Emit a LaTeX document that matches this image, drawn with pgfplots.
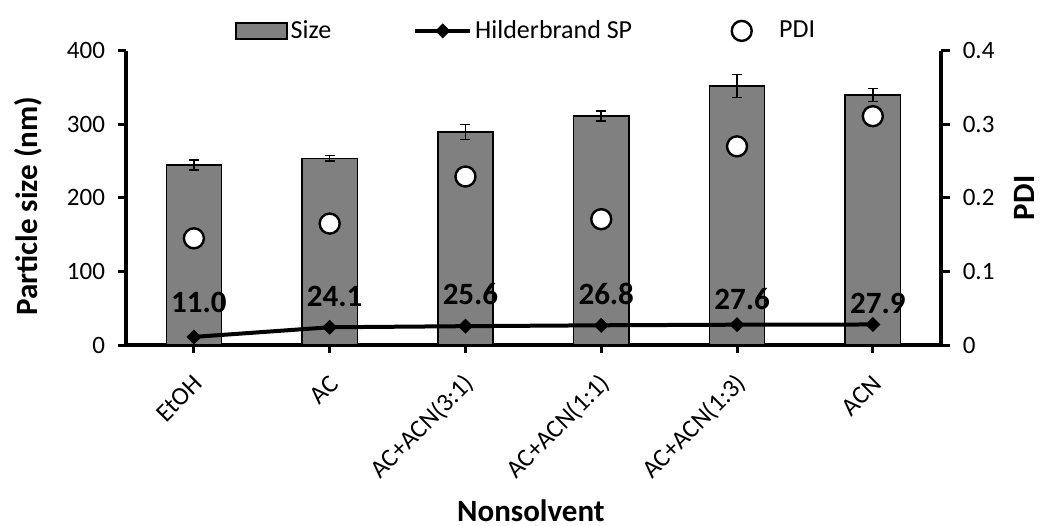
\documentclass[border=0pt]{standalone}
\usepackage{pgfplots}
\usepackage{pgfplotstable}
\usepackage{fontspec}
\setmainfont{Carlito}
\pgfplotsset{compat=1.18}
\definecolor{barGray}{RGB}{128,128,128}

\pgfplotsset{
  sizeleg/.style={legend image code/.code={\draw[fill=barGray, draw=black, line width=0.75pt] (0pt,-4pt) rectangle (25.5pt,4pt);}},
  lineleg/.style={legend image code/.code={\draw[mark repeat=2, mark phase=2, ##1] plot coordinates {(0pt,0pt) (13.75pt,0pt) (27.5pt,0pt)};}},
  pdileg/.style={legend image code/.code={\path[draw=none, fill=none] (0pt,-5pt) rectangle (31pt,5pt); \node[circle, draw=black, fill=white, line width=1.2pt, minimum size=10pt, inner sep=0pt] at (13.75pt,0pt) {};}},
}

\pgfplotstableread{
x  size  err  sp    lab   dy    pdi
0  244.6 6.8  11.0  11.0  17.0  0.145
1  253.7 3.9  24.1  24.1  15.2  0.165
2  289.5 10.2 25.6  25.6  15.9  0.229
3  311.2 6.6  26.8  26.8  15.7  0.171
4  352.0 15.8 27.6  27.6  12.6  0.270
5  339.8 9.0  27.9  27.9  10.6  0.311
}\datatable

\begin{document}
\begin{tikzpicture}
\path[use as bounding box] (-63pt,-90pt) rectangle (458pt,172.5pt);
\begin{axis}[
  at={(0,0)}, anchor=south west,
  scale only axis, width=407.35pt, height=147.15pt,
  xmin=-0.5, xmax=5.5, ymin=0, ymax=400,
  axis x line*=bottom, axis y line*=left,
  axis line style={line width=2pt, black},
  tick align=outside,
  major tick length=4pt,
  tick style={line width=1.5pt, black},
  xtick={0,1,2,3,4,5},
  xticklabels={EtOH, AC, AC+ACN(3:1), AC+ACN(1:1), AC+ACN(1:3), ACN},
  ytick={0,100,200,300,400},
  /pgf/number format/assume math mode=true,
  yticklabel style={font=\fontsize{12.5}{12.5}\selectfont, xshift=-3pt},
  xticklabel style={font=\fontsize{12.75}{12.75}\selectfont, xshift=3pt, yshift=-12.5pt, rotate=45, anchor=east, inner sep=1pt},
  ylabel={Particle size (nm)},
  ylabel style={font=\bfseries\fontsize{15.5}{15.5}\selectfont, at={(axis description cs:-0.12,0.472)}, anchor=center},
  xlabel={Nonsolvent},
  xlabel style={font=\bfseries\fontsize{15.5}{15.5}\selectfont, at={(axis description cs:0.497,-0.601)}, anchor=base, inner sep=0pt},
  legend columns=3,
  legend style={at={(axis description cs:0.49,1)}, anchor=center, yshift=9.9pt,
    draw=none, fill=none, inner sep=0pt, outer sep=0pt,
    font=\fontsize{13}{13}\selectfont,
    nodes={inner sep=0pt},
    /tikz/every odd column/.append style={column sep=1.5pt},
    /tikz/every even column/.append style={column sep=41pt}},
  clip=false,
]
\addplot[ybar, bar width=27.6pt, fill=barGray, draw=black, line width=0.75pt, sizeleg,
  error bars/.cd, y dir=both, y explicit,
  error bar style={line width=0.75pt, black},
  error mark options={rotate=90, mark size=2.5pt, line width=0.75pt, black}]
  table[x=x, y=size, y error=err] {\datatable};
\addlegendentry{Size}
\addplot[black, line width=2pt, mark=square*, mark size=2.4pt, mark options={rotate=45, fill=black, line width=0.5pt},
  lineleg,
  nodes near coords, point meta=explicit symbolic,
  visualization depends on={\thisrow{dy} \as \labdy},
  every node near coord/.append style={anchor=center, xshift=2.5pt, yshift=\labdy pt,
    font=\bfseries\fontsize{15.5}{15.5}\selectfont, text=black}]
  table[x=x, y=sp, meta=lab] {\datatable};
\addlegendentry{Hilderbrand SP}
\addlegendimage{pdileg}
\addlegendentry{PDI}
\end{axis}
\begin{axis}[
  at={(0,0)}, anchor=south west,
  scale only axis, width=407.35pt, height=147.15pt,
  xmin=-0.5, xmax=5.5, ymin=0, ymax=0.4,
  axis x line=none, axis y line*=right,
  axis line style={line width=2pt, black},
  tick align=outside,
  major tick length=4.5pt,
  tick style={line width=1.5pt, black},
  ytick={0,0.1,0.2,0.3,0.4},
  yticklabels={0,0.1,0.2,0.3,0.4},
  yticklabel style={font=\fontsize{12.5}{12.5}\selectfont, xshift=3pt},
  ylabel={PDI},
  ylabel style={font=\bfseries\fontsize{15.5}{15.5}\selectfont, at={(axis description cs:1.103,0.5)}, anchor=center, rotate=0},
  clip=false,
]
\addplot[only marks, mark=*, mark size=5pt, mark options={fill=white, draw=black, line width=1.2pt}]
  table[x=x, y=pdi] {\datatable};
\end{axis}
\end{tikzpicture}
\end{document}
